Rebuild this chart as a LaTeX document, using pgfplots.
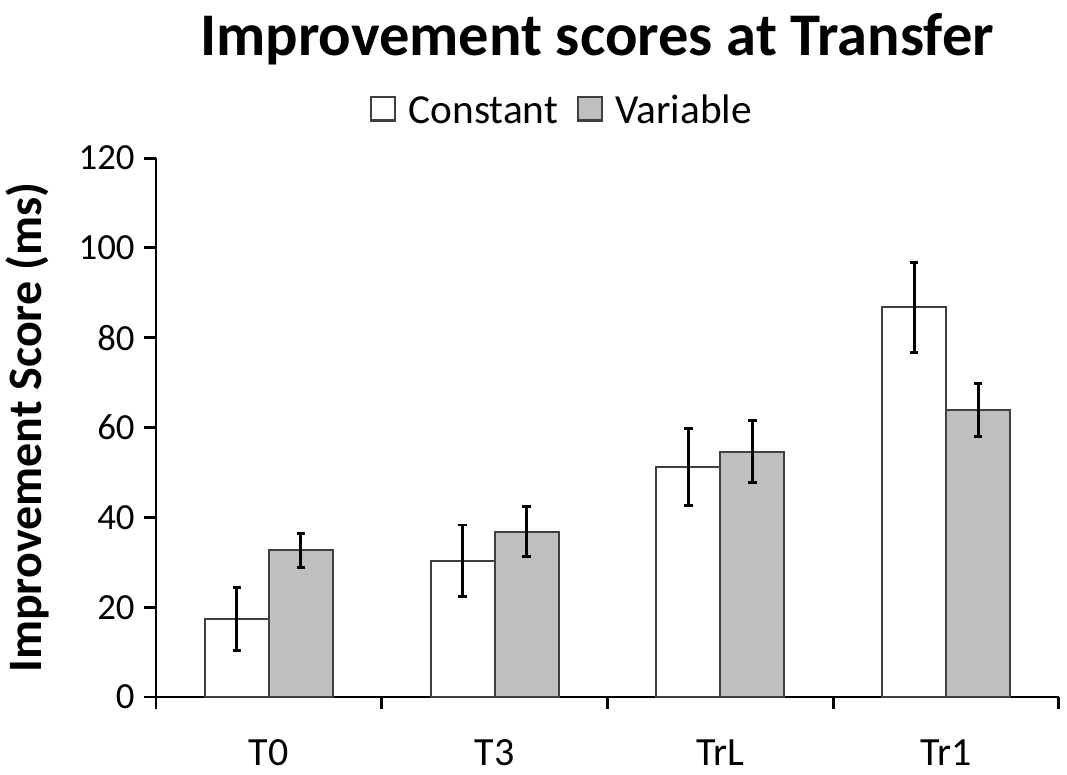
\documentclass[border=0pt]{standalone}
\usepackage{pgfplots}
\pgfplotsset{compat=1.18}
\usepackage{fontspec}
\setmainfont{Carlito}
\definecolor{barfill}{HTML}{BFBFBF}
\definecolor{baredge}{HTML}{404040}
\begin{document}
\begin{tikzpicture}
\path[use as bounding box] (0,0) rectangle (400.125pt,290.25pt);
\node[font=\fontsize{22.7}{27}\selectfont\bfseries, anchor=base] at (223.9pt,269.6pt) {Improvement scores at Transfer};
\begin{axis}[
  at={(58.5pt,28.875pt)}, anchor=south west,
  scale only axis, width=338.6pt, height=202.1pt,
  ybar=0pt, bar width=24pt,
  xmin=-0.5, xmax=3.5, ymin=0, ymax=120,
  ytick={0,20,...,120},
  xtick={-0.5,0.5,1.5,2.5,3.5},
  x tick label as interval,
  xticklabels={T0,T3,TrL,Tr1},
  axis lines*=left,
  axis line style={line width=1.1pt, black},
  tick style={line width=1.1pt, black},
  tick align=outside, major tick length=4.5pt,
  /pgf/number format/assume math mode=true,
  yticklabel style={font=\fontsize{13.8}{16}\selectfont},
  xticklabel style={font=\fontsize{15}{18}\selectfont, yshift=-8pt},
  ylabel={Improvement Score (ms)},
  ylabel style={font=\fontsize{18}{22}\selectfont\bfseries, at={(axis description cs:-0.142,0.5)}, anchor=center},
  legend style={at={(axis description cs:0.4513,1.0915)}, anchor=center, draw=none, fill=none,
    legend columns=2, font=\fontsize{15.5}{18}\selectfont,
    nodes={text height=11pt, text depth=0pt},
    /tikz/every odd column/.append style={column sep=2.5pt},
    /tikz/every even column/.append style={column sep=5pt}},
  legend image code/.code={\draw[#1, line width=1pt] (0pt,-4.4pt) rectangle (9pt,4.4pt);},
  error bars/error bar style={line width=1.1pt, black},
  error bars/error mark options={rotate=90, mark size=1.6pt, line width=1.1pt, black},
]
\addplot[fill=white, draw=baredge, line width=0.75pt,
  error bars/.cd, y dir=both, y explicit]
  coordinates {(0,17.35) +- (0,6.95) (1,30.3) +- (0,8.0) (2,51.15) +- (0,8.55) (3,86.75) +- (0,10.05)};
\addplot[fill=barfill, draw=baredge, line width=0.75pt,
  error bars/.cd, y dir=both, y explicit]
  coordinates {(0,32.7) +- (0,3.8) (1,36.8) +- (0,5.6) (2,54.65) +- (0,6.95) (3,63.95) +- (0,5.95)};
\legend{Constant, Variable}
\end{axis}
\end{tikzpicture}
\end{document}
